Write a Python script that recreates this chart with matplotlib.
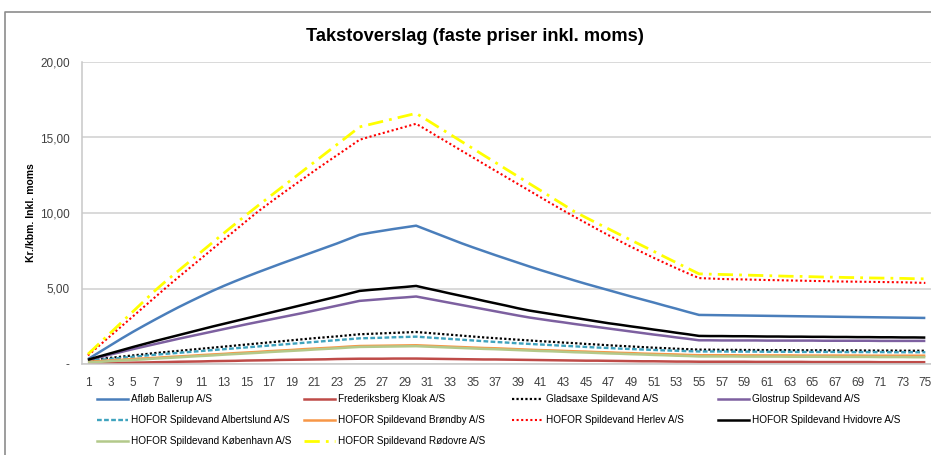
import matplotlib
matplotlib.use("Agg")
import matplotlib.pyplot as plt
from matplotlib.lines import Line2D

years = list(range(1, 76))

ballerup = [0.32, 0.78, 1.24, 1.70, 2.14, 2.56, 2.97, 3.37, 3.76, 4.13,
            4.49, 4.84, 5.17, 5.48, 5.78, 6.07, 6.35, 6.63, 6.90, 7.17,
            7.44, 7.71, 7.98, 8.27, 8.56, 8.70, 8.82, 8.94, 9.05, 9.16,
            8.87, 8.58, 8.29, 8.00, 7.73, 7.47, 7.21, 6.96, 6.71, 6.46,
            6.22, 5.99, 5.76, 5.53, 5.31, 5.10, 4.89, 4.68, 4.47, 4.27,
            4.07, 3.86, 3.66, 3.45, 3.25, 3.24, 3.23, 3.22, 3.21, 3.20,
            3.19, 3.18, 3.17, 3.16, 3.15, 3.14, 3.13, 3.12, 3.11, 3.10,
            3.09, 3.08, 3.07, 3.06, 3.05]

frederiksberg = [0.03, 0.05, 0.06, 0.08, 0.09, 0.10, 0.12, 0.13, 0.15, 0.16,
                 0.17, 0.19, 0.20, 0.21, 0.23, 0.24, 0.25, 0.27, 0.28, 0.29,
                 0.30, 0.31, 0.33, 0.34, 0.35, 0.35, 0.35, 0.36, 0.36, 0.36,
                 0.35, 0.34, 0.33, 0.32, 0.31, 0.30, 0.30, 0.29, 0.28, 0.27,
                 0.26, 0.25, 0.24, 0.23, 0.22, 0.22, 0.21, 0.20, 0.19, 0.18,
                 0.18, 0.17, 0.16, 0.16, 0.15, 0.15, 0.15, 0.15, 0.15, 0.14,
                 0.14, 0.14, 0.14, 0.14, 0.13, 0.13, 0.13, 0.13, 0.13, 0.13,
                 0.12, 0.12, 0.12, 0.12, 0.12]

gladsaxe = [0.25, 0.33, 0.41, 0.49, 0.57, 0.65, 0.73, 0.80, 0.87, 0.94,
            1.01, 1.08, 1.15, 1.22, 1.29, 1.36, 1.43, 1.50, 1.57, 1.64,
            1.71, 1.77, 1.83, 1.90, 1.97, 2.00, 2.03, 2.06, 2.09, 2.12,
            2.06, 2.00, 1.94, 1.88, 1.82, 1.76, 1.71, 1.66, 1.61, 1.56,
            1.51, 1.47, 1.42, 1.38, 1.33, 1.29, 1.24, 1.20, 1.16, 1.12,
            1.08, 1.05, 1.01, 0.98, 0.95, 0.95, 0.94, 0.94, 0.93, 0.93,
            0.92, 0.92, 0.92, 0.91, 0.91, 0.91, 0.90, 0.90, 0.90, 0.89,
            0.89, 0.89, 0.88, 0.88, 0.88]

glostrup = [0.25, 0.44, 0.63, 0.81, 0.99, 1.16, 1.33, 1.50, 1.67, 1.83,
            1.99, 2.15, 2.31, 2.47, 2.63, 2.78, 2.93, 3.08, 3.23, 3.38,
            3.54, 3.70, 3.86, 4.02, 4.18, 4.24, 4.30, 4.36, 4.41, 4.47,
            4.33, 4.19, 4.05, 3.91, 3.77, 3.63, 3.49, 3.35, 3.21, 3.08,
            2.97, 2.86, 2.76, 2.65, 2.55, 2.45, 2.35, 2.25, 2.15, 2.05,
            1.95, 1.86, 1.76, 1.67, 1.57, 1.57, 1.56, 1.56, 1.56, 1.56,
            1.55, 1.55, 1.55, 1.55, 1.55, 1.54, 1.54, 1.54, 1.54, 1.54,
            1.53, 1.53, 1.53, 1.53, 1.53]

albertslund = [0.20, 0.27, 0.34, 0.41, 0.48, 0.55, 0.62, 0.68, 0.74, 0.80,
               0.86, 0.92, 0.98, 1.04, 1.10, 1.16, 1.22, 1.28, 1.34, 1.40,
               1.46, 1.52, 1.58, 1.64, 1.70, 1.72, 1.74, 1.77, 1.79, 1.81,
               1.76, 1.71, 1.66, 1.61, 1.56, 1.51, 1.46, 1.42, 1.37, 1.33,
               1.29, 1.25, 1.21, 1.17, 1.13, 1.09, 1.06, 1.02, 0.99, 0.96,
               0.93, 0.90, 0.88, 0.85, 0.83, 0.83, 0.83, 0.82, 0.82, 0.82,
               0.81, 0.81, 0.81, 0.80, 0.80, 0.80, 0.80, 0.79, 0.79, 0.79,
               0.79, 0.78, 0.78, 0.78, 0.78]

brondby = [0.15, 0.19, 0.24, 0.28, 0.33, 0.37, 0.41, 0.46, 0.50, 0.54,
           0.59, 0.63, 0.67, 0.72, 0.76, 0.80, 0.85, 0.89, 0.93, 0.98,
           1.02, 1.06, 1.10, 1.15, 1.19, 1.20, 1.21, 1.22, 1.23, 1.24,
           1.21, 1.18, 1.15, 1.12, 1.09, 1.06, 1.04, 1.01, 0.98, 0.95,
           0.92, 0.90, 0.87, 0.84, 0.82, 0.79, 0.77, 0.74, 0.72, 0.69,
           0.67, 0.65, 0.63, 0.60, 0.58, 0.58, 0.58, 0.58, 0.57, 0.57,
           0.57, 0.57, 0.57, 0.56, 0.56, 0.56, 0.56, 0.56, 0.56, 0.55,
           0.55, 0.55, 0.55, 0.55, 0.55]

herlev = [0.57, 1.22, 1.87, 2.52, 3.17, 3.82, 4.47, 5.12, 5.75, 6.37,
          6.99, 7.61, 8.23, 8.85, 9.47, 10.08, 10.64, 11.19, 11.73, 12.26,
          12.79, 13.31, 13.82, 14.33, 14.85, 15.07, 15.28, 15.49, 15.70, 15.91,
          15.47, 15.02, 14.58, 14.13, 13.69, 13.24, 12.80, 12.36, 11.92, 11.48,
          11.04, 10.60, 10.17, 9.75, 9.34, 8.93, 8.53, 8.14, 7.76, 7.39,
          7.03, 6.68, 6.34, 6.01, 5.69, 5.66, 5.63, 5.61, 5.60, 5.58,
          5.56, 5.55, 5.53, 5.52, 5.50, 5.49, 5.47, 5.46, 5.45, 5.44,
          5.43, 5.42, 5.41, 5.39, 5.37]

hvidovre = [0.28, 0.50, 0.71, 0.92, 1.13, 1.33, 1.53, 1.72, 1.91, 2.10,
            2.29, 2.48, 2.66, 2.84, 3.02, 3.20, 3.38, 3.56, 3.74, 3.92,
            4.10, 4.28, 4.46, 4.65, 4.84, 4.91, 4.97, 5.04, 5.10, 5.17,
            5.00, 4.84, 4.67, 4.51, 4.35, 4.18, 4.02, 3.86, 3.69, 3.54,
            3.42, 3.30, 3.18, 3.06, 2.94, 2.82, 2.70, 2.60, 2.49, 2.39,
            2.28, 2.18, 2.07, 1.97, 1.86, 1.85, 1.85, 1.84, 1.84, 1.83,
            1.82, 1.82, 1.81, 1.81, 1.80, 1.80, 1.79, 1.79, 1.78, 1.78,
            1.77, 1.77, 1.76, 1.76, 1.75]

kobenhavn = [0.10, 0.14, 0.19, 0.23, 0.27, 0.31, 0.36, 0.40, 0.44, 0.49,
             0.53, 0.57, 0.62, 0.66, 0.70, 0.74, 0.79, 0.83, 0.87, 0.91,
             0.96, 1.00, 1.04, 1.09, 1.13, 1.14, 1.15, 1.16, 1.17, 1.18,
             1.15, 1.12, 1.09, 1.06, 1.03, 1.00, 0.98, 0.95, 0.92, 0.89,
             0.86, 0.84, 0.81, 0.78, 0.76, 0.73, 0.70, 0.68, 0.65, 0.63,
             0.60, 0.58, 0.55, 0.53, 0.50, 0.50, 0.50, 0.50, 0.49, 0.49,
             0.49, 0.49, 0.48, 0.48, 0.48, 0.48, 0.47, 0.47, 0.47, 0.47,
             0.46, 0.46, 0.46, 0.45, 0.45]

rodovre = [0.65, 1.36, 2.07, 2.78, 3.49, 4.20, 4.91, 5.56, 6.18, 6.80,
           7.42, 8.04, 8.66, 9.27, 9.88, 10.47, 11.05, 11.63, 12.21, 12.79,
           13.37, 13.95, 14.53, 15.11, 15.70, 15.88, 16.06, 16.24, 16.42, 16.60,
           16.14, 15.67, 15.21, 14.74, 14.28, 13.81, 13.35, 12.88, 12.42, 11.95,
           11.49, 11.02, 10.56, 10.09, 9.70, 9.32, 8.95, 8.57, 8.20, 7.83,
           7.46, 7.08, 6.71, 6.34, 5.97, 5.95, 5.93, 5.91, 5.89, 5.87,
           5.85, 5.83, 5.81, 5.80, 5.78, 5.76, 5.75, 5.73, 5.72, 5.70,
           5.69, 5.68, 5.67, 5.65, 5.64]

series_names = ["Afløb Ballerup A/S", "Frederiksberg Kloak A/S",
                "Gladsaxe Spildevand A/S", "Glostrup Spildevand A/S",
                "HOFOR Spildevand Albertslund A/S", "HOFOR Spildevand Brøndby A/S",
                "HOFOR Spildevand Herlev A/S", "HOFOR Spildevand Hvidovre A/S",
                "HOFOR Spildevand København A/S", "HOFOR Spildevand Rødovre A/S"]
series_values = [ballerup, frederiksberg, gladsaxe, glostrup, albertslund,
                 brondby, herlev, hvidovre, kobenhavn, rodovre]

title = "Takstoverslag (faste priser inkl. moms)"
ylabel = "Kr./kbm. Inkl. moms"
yticks = [0, 5, 10, 15, 20]
ytick_labels = ["-", "5,00", "10,00", "15,00", "20,00"]

for v in series_values:
    assert len(v) == 75, len(v)

styles = [
    dict(color="#4A7EBB", lw=1.8, ls="-"),
    dict(color="#BE4B48", lw=1.8, ls="-"),
    dict(color="#000000", lw=1.6, ls=(0, (1, 1))),
    dict(color="#7D60A0", lw=1.8, ls="-"),
    dict(color="#3FA3BE", lw=1.7, ls=(0, (2, 1))),
    dict(color="#F79646", lw=1.8, ls="-"),
    dict(color="#FF0000", lw=1.5, ls=(0, (1, 1.2))),
    dict(color="#000000", lw=1.8, ls="-"),
    dict(color="#B3C98A", lw=1.8, ls="-"),
    dict(color="#FFFF00", lw=2.0, ls=(0, (5.5, 2.2, 1, 2.2))),
]

FONT = ["Liberation Sans", "DejaVu Sans"]
W, H = 931, 455
fig = plt.figure(figsize=(W / 100, H / 100), dpi=100)
fig.patch.set_facecolor("white")
renderer = fig.canvas.get_renderer()


def fx(px):
    return px / W


def fy(py):
    return 1 - py / H


def fit_size(s, target_px, weight="normal", base=10.0):
    t = fig.text(0, 0, s, family=FONT, fontsize=base, fontweight=weight)
    w = t.get_window_extent(renderer).width
    t.remove()
    return base * target_px / w


title_size = fit_size(title, 338, "bold")
leg_size = fit_size("HOFOR Spildevand Albertslund A/S", 160)
ylab_size = fit_size(ylabel, 99, "bold")
tick_size = fit_size("20,00", 29.5)

ax = fig.add_axes([fx(82.3), fy(364), fx(931) - fx(82.3), fy(62) - fy(364)])
for vals, st in zip(series_values, styles):
    ax.plot(years, vals, color=st["color"], lw=st["lw"], linestyle=st["ls"],
            solid_capstyle="butt", dash_capstyle="butt")

ax.set_xlim(0.5, 75.5)
ax.set_ylim(0, 20)
ax.set_yticks(yticks)
ax.set_yticklabels(ytick_labels, family=FONT, fontsize=tick_size, color="#404040")
ax.set_xticks(years[::2])
ax.set_xticklabels([str(y) for y in years[::2]], family=FONT, fontsize=tick_size,
                   color="#404040")
ax.tick_params(axis="both", length=0)
ax.tick_params(axis="y", pad=9)
ax.tick_params(axis="x", pad=9)
ax.grid(axis="y", color="#D0D0D0", lw=1.1)
ax.set_axisbelow(True)
for s in ["top", "right"]:
    ax.spines[s].set_visible(False)
for s in ["left", "bottom"]:
    ax.spines[s].set_color("#C8C8C8")
    ax.spines[s].set_linewidth(1.1)

fig.text(fx(475), fy(36.5), title, ha="center", va="center", family=FONT,
         fontsize=title_size, fontweight="bold", color="#000000")
fig.text(fx(31), fy(213), ylabel, ha="center", va="center", rotation=90,
         family=FONT, fontsize=ylab_size, fontweight="bold", color="#000000")

# legend (Excel-like grid, row-major)
col_x = [97, 304, 512, 718]
row_y = [399, 420, 441]
for k, (name, st) in enumerate(zip(series_names, styles)):
    r, c = divmod(k, 4)
    x0 = col_x[c]
    y0 = row_y[r]
    fig.add_artist(Line2D([fx(x0), fx(x0 + 31)], [fy(y0), fy(y0)],
                          color=st["color"], lw=st["lw"], linestyle=st["ls"]))
    fig.text(fx(x0 + 34), fy(y0), name, ha="left", va="center",
             family=FONT, fontsize=leg_size, color="#000000")

# outer chart border
fig.add_artist(Line2D([fx(5), fx(5), fx(931)], [fy(455), fy(12), fy(12)],
                      color="#8C8C8C", lw=1.2))

fig.savefig("out.png", dpi=100)
